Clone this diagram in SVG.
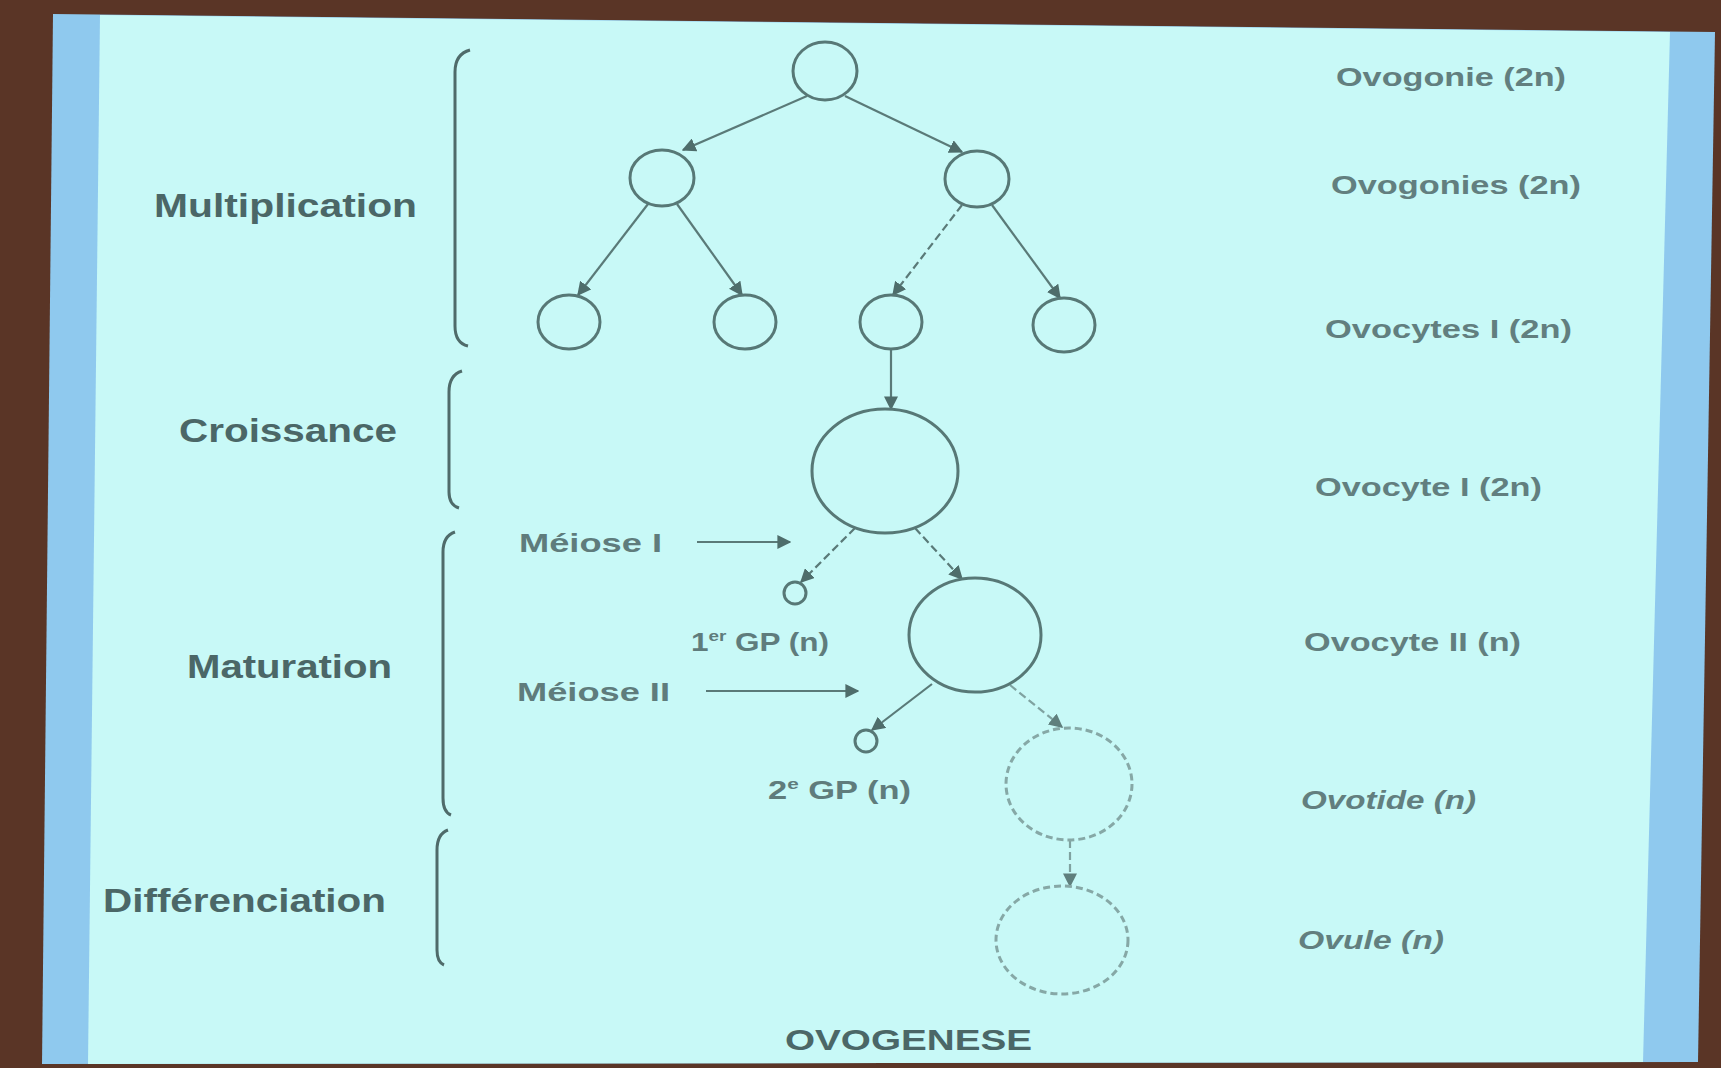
<svg xmlns="http://www.w3.org/2000/svg" width="1721" height="1068" viewBox="0 0 1721 1068">
<defs>
<marker id="ah" viewBox="0 0 10 10" refX="9" refY="5" markerWidth="14" markerHeight="14" markerUnits="userSpaceOnUse" orient="auto"><path d="M0,0 L10,5 L0,10 z" fill="#4e6d6b"/></marker>
<marker id="ahf" viewBox="0 0 10 10" refX="9" refY="5" markerWidth="14" markerHeight="14" markerUnits="userSpaceOnUse" orient="auto"><path d="M0,0 L10,5 L0,10 z" fill="#5f7f7d"/></marker>
<style>
.cell{fill:none;stroke:#577876;stroke-width:3}
.faint{fill:none;stroke:#86a8a6;stroke-width:3;stroke-dasharray:7 4}
.edge{fill:none;stroke:#5a7a78;stroke-width:2.2;marker-end:url(#ah)}
.dash{stroke-dasharray:8 4}
.br{fill:none;stroke:#4f6b6a;stroke-width:3}
.lab{font-family:"Liberation Sans",Arial,sans-serif;font-weight:bold;fill:#4b6767;font-size:33px}
.rl{font-family:"Liberation Sans",Arial,sans-serif;font-weight:bold;fill:#627f7f;font-size:26px}
.ml{font-family:"Liberation Sans",Arial,sans-serif;font-weight:bold;fill:#5f7c7c;font-size:25px}
</style>
</defs>
<rect x="0" y="0" width="1721" height="1068" fill="#5a3526"/>
<polygon points="53,14 1715,32 1698,1062 42,1064" fill="#8fc9ee"/>
<polygon points="100,15 1670,32 1643,1062 88,1064" fill="#c8f9f7"/>

<g id="brackets">
<path class="br" d="M470,50 Q455,54 455,72 L455,326 Q455,343 468,346"/>
<path class="br" d="M462,371 Q449,375 449,392 L449,492 Q449,505 459,508"/>
<path class="br" d="M455,532 Q443,536 443,552 L443,798 Q443,812 451,815"/>
<path class="br" d="M448,830 Q437,834 437,850 L437,950 Q437,962 444,965"/>
</g>

<g id="stage-labels">
<text class="lab" x="154" y="217" textLength="263" lengthAdjust="spacingAndGlyphs">Multiplication</text>
<text class="lab" x="179" y="442" textLength="218" lengthAdjust="spacingAndGlyphs">Croissance</text>
<text class="lab" x="187" y="678" textLength="205" lengthAdjust="spacingAndGlyphs">Maturation</text>
<text class="lab" x="103" y="912" textLength="283" lengthAdjust="spacingAndGlyphs">Différenciation</text>
</g>

<g id="connectors">
<line class="edge" x1="807" y1="96" x2="683" y2="150"/>
<line class="edge" x1="845" y1="96" x2="962" y2="152"/>
<line class="edge" x1="648" y1="204" x2="578" y2="295"/>
<line class="edge" x1="677" y1="204" x2="742" y2="295"/>
<line class="edge dash" x1="962" y1="205" x2="893" y2="295"/>
<line class="edge" x1="992" y1="205" x2="1060" y2="298"/>
<line class="edge" x1="891" y1="350" x2="891" y2="409"/>
<line class="edge dash" x1="855" y1="528" x2="801" y2="582"/>
<line class="edge dash" x1="915" y1="528" x2="962" y2="579"/>
<line class="edge" x1="932" y1="684" x2="872" y2="730"/>
<line class="edge dash" x1="1010" y1="685" x2="1062" y2="727" style="stroke:#7fa2a0;marker-end:url(#ahf)"/>
<line class="edge dash" x1="1070" y1="840" x2="1070" y2="886" style="stroke:#7fa2a0;marker-end:url(#ahf)"/>
<line class="edge" x1="697" y1="542" x2="790" y2="542"/>
<line class="edge" x1="706" y1="691" x2="858" y2="691"/>
</g>

<g id="ovogonie"><ellipse class="cell" cx="825" cy="71" rx="32" ry="29"/></g>
<g id="ovogonie-a"><ellipse class="cell" cx="662" cy="178" rx="32" ry="28"/></g>
<g id="ovogonie-b"><ellipse class="cell" cx="977" cy="179" rx="32" ry="28"/></g>
<g id="ovocyte1-a"><ellipse class="cell" cx="569" cy="322" rx="31" ry="27"/></g>
<g id="ovocyte1-b"><ellipse class="cell" cx="745" cy="322" rx="31" ry="27"/></g>
<g id="ovocyte1-c"><ellipse class="cell" cx="891" cy="322" rx="31" ry="27"/></g>
<g id="ovocyte1-d"><ellipse class="cell" cx="1064" cy="325" rx="31" ry="27"/></g>
<g id="ovocyte1-grown"><ellipse class="cell" cx="885" cy="471" rx="73" ry="62"/></g>
<g id="ovocyte2"><ellipse class="cell" cx="975" cy="635" rx="66" ry="57"/></g>
<g id="ovotide"><ellipse class="faint" cx="1069" cy="784" rx="63" ry="56"/></g>
<g id="ovule"><ellipse class="faint" cx="1062" cy="940" rx="66" ry="54"/></g>
<g id="gp1"><circle class="cell" cx="795" cy="593" r="11"/></g>
<g id="gp2"><circle class="cell" cx="866" cy="741" r="11"/></g>

<g id="middle-labels">
<text class="ml" x="519" y="552" textLength="143" lengthAdjust="spacingAndGlyphs">Méiose I</text>
<text class="ml" x="517" y="701" textLength="153" lengthAdjust="spacingAndGlyphs">Méiose II</text>
<text class="ml" x="691" y="651" textLength="138" lengthAdjust="spacingAndGlyphs">1<tspan font-size="15" dy="-10">er</tspan><tspan dy="10"> GP (n)</tspan></text>
<text class="ml" x="768" y="799" textLength="143" lengthAdjust="spacingAndGlyphs">2<tspan font-size="15" dy="-10">e</tspan><tspan dy="10"> GP (n)</tspan></text>
</g>

<g id="right-labels">
<text class="rl" x="1336" y="86" textLength="230" lengthAdjust="spacingAndGlyphs">Ovogonie (2n)</text>
<text class="rl" x="1331" y="194" textLength="250" lengthAdjust="spacingAndGlyphs">Ovogonies (2n)</text>
<text class="rl" x="1325" y="338" textLength="247" lengthAdjust="spacingAndGlyphs">Ovocytes I (2n)</text>
<text class="rl" x="1315" y="496" textLength="227" lengthAdjust="spacingAndGlyphs">Ovocyte I (2n)</text>
<text class="rl" x="1304" y="651" textLength="217" lengthAdjust="spacingAndGlyphs">Ovocyte II (n)</text>
<text class="rl" x="1301" y="809" font-style="italic" textLength="175" lengthAdjust="spacingAndGlyphs">Ovotide (n)</text>
<text class="rl" x="1298" y="949" font-style="italic" textLength="146" lengthAdjust="spacingAndGlyphs">Ovule (n)</text>
</g>

<g id="title">
<text class="lab" x="785" y="1050" style="font-size:30px" textLength="247" lengthAdjust="spacingAndGlyphs">OVOGENESE</text>
</g>
</svg>
